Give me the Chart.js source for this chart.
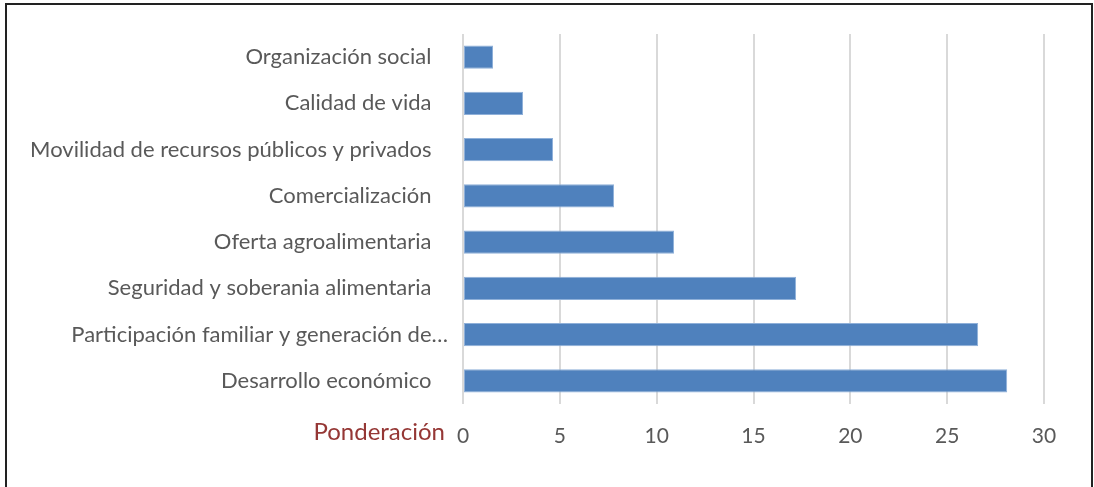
<!DOCTYPE html>
<html>
<head>
<meta charset="utf-8">
<script src="https://cdn.jsdelivr.net/npm/chart.js@4.4.1/dist/chart.umd.min.js"></script>
<style>
    body { margin: 0; background: #fff; }
    #frame {
        position: absolute; left: 5px; top: 3px; width: 1084px; height: 500px;
        border: 2px solid #222; border-bottom: none;
    }
    #wrap { position: absolute; left: 0; top: 0; width: 1094px; height: 487px; }
</style>
</head>
<body>
<div id="frame"></div>
<div id="wrap"><canvas id="myChart"></canvas></div>
<script>
var categories = [
    "Organización social",
    "Calidad de vida",
    "Movilidad de recursos públicos y privados",
    "Comercialización",
    "Oferta agroalimentaria",
    "Seguridad y soberania alimentaria",
    "Participación familiar y generación de…",
    "Desarrollo económico"
];
var ponderacion = [1.55, 3.1, 4.65, 7.8, 10.9, 17.2, 26.6, 28.1];
var xTicks = [0, 5, 10, 15, 20, 25, 30];
var xTitle = "Ponderación";

// draws the axis caption to the left of the first tick label
var sideTitle = {
    id: 'sideTitle',
    afterDraw: function (chart) {
        var ctx = chart.ctx;
        var x = chart.scales.x;
        ctx.save();
        ctx.font = '24px Lato';
        ctx.fillStyle = '#953735';
        ctx.textAlign = 'right';
        ctx.textBaseline = 'middle';
        ctx.fillText(xTitle, x.left - 18, 432);
        ctx.restore();
    }
};

new Chart(document.getElementById("myChart"), {
    type: 'bar',
    data: {
        labels: categories,
        datasets: [{
            label: xTitle,
            backgroundColor: "#4F81BD",
            borderColor: "#8FB0D9",
            borderWidth: 1,
            borderSkipped: false,
            categoryPercentage: 1,
            barPercentage: 0.5,
            data: ponderacion
        }]
    },
    options: {
        indexAxis: 'y',
        responsive: true,
        maintainAspectRatio: false,
        animation: false,
        layout: { padding: { top: 34, right: 50, bottom: 0, left: 0 } },
        plugins: {
            legend: { display: false },
            tooltip: { enabled: false }
        },
        scales: {
            x: {
                min: 0,
                max: 30,
                afterBuildTicks: function (scale) {
                    scale.ticks = xTicks.map(function (v) { return { value: v }; });
                },
                afterFit: function (scale) { scale.height = 83; },
                grid: { color: '#D9D9D9', lineWidth: 2, drawTicks: false },
                border: { display: false },
                ticks: { color: '#595959', font: { family: 'Lato', size: 21 }, padding: 20 }
            },
            y: {
                afterFit: function (scale) { scale.width = 463; },
                grid: { display: false },
                border: { display: false },
                ticks: {
                    color: '#595959',
                    font: { family: 'Lato', size: 22 },
                    padding: 7,
                    // labels carry a trailing gap, except the cut one
                    callback: function (value) {
                        var t = this.getLabelForValue(value);
                        return t.slice(-1) === '…' ? t : t + '\u2003';
                    }
                }
            }
        }
    },
    plugins: [sideTitle]
});
</script>
</body>
</html>
